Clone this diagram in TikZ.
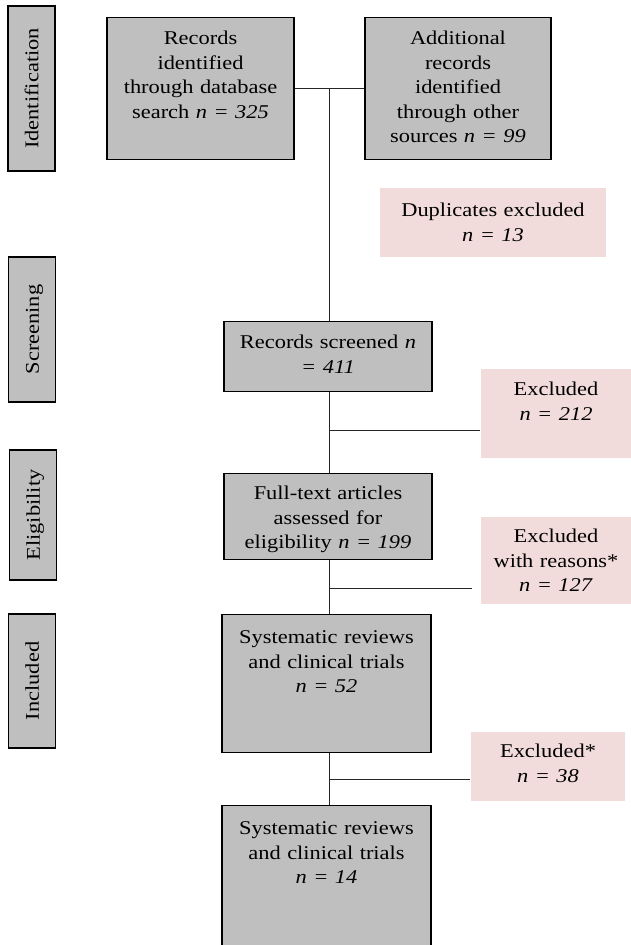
\documentclass[tikz,border=0pt]{standalone}
\usepackage{fontspec}
\setmainfont{Liberation Serif}[FakeStretch=1.15]
\usepackage{tikz}
\usetikzlibrary{calc,positioning}
\definecolor{boxgray}{RGB}{191,191,191}
\definecolor{boxpink}{RGB}{242,220,219}
\newcommand{\mainwidth}{202pt}
\newcommand{\exwidth}{144pt}
\newcommand{\sidewidth}{47pt}
\tikzset{
  font=\fontsize{19.5pt}{24.5pt}\selectfont,
  graybox/.style={draw,line width=1.1pt,fill=boxgray,shape=rectangle,anchor=north,align=center,inner xsep=3pt,inner ysep=0pt,text height=27pt},
  pinkbox/.style={graybox,draw=none,fill=boxpink},
  sidebox/.style={draw,line width=1.1pt,fill=boxgray,shape=rectangle,rotate=90,minimum height=\sidewidth,text height=13.5pt,text depth=0pt,inner sep=0pt},
  line/.style={draw,line width=1pt,black!85}
}
\begin{document}
\begin{tikzpicture}[x=1pt,y=-1pt]
  \useasboundingbox (0,0) rectangle (631,945);

  \node (ident) [sidebox,minimum width=165pt] at (31.5,88.5) {Identification};
  \node (screen) [sidebox,minimum width=145pt] at (32,329.5) {Screening};
  \node (elig) [sidebox,minimum width=130pt] at (33,515) {Eligibility};
  \node (incl) [sidebox,minimum width=134pt] at (32,681) {Included};

  \node (rec) [graybox,text width=181pt,text depth=115pt] at (200.5,17) {Records\\ identified\\ through database\\ search \textit{n = 325}};
  \node (add) [graybox,text width=180pt,text depth=115pt] at (458,17) {Additional\\ records\\ identified\\ through other\\ sources \textit{n = 99}};
  \node (dup) [pinkbox,text width=220pt,text height=29pt,text depth=40pt] at (493,187) {Duplicates excluded\\ \textit{n = 13}};
  \node (scr) [graybox,text width=\mainwidth,text depth=43pt] at (328,321) {Records screened \textit{n}\\ \textit{= 411}};
  \node (ex1) [pinkbox,text width=\exwidth,text depth=62pt] at (556,368) {Excluded\\ \textit{n = 212}};
  \node (full) [graybox,text width=\mainwidth,text height=26pt,text depth=60pt] at (328,473) {Full-text articles\\ assessed for\\ eligibility \textit{n = 199}};
  \node (ex2) [pinkbox,text width=\exwidth,text height=26pt,text depth=61pt] at (556,516) {Excluded\\ with reasons*\\ \textit{n = 127}};
  \node (sr1) [graybox,text width=203pt,text height=29pt,text depth=109pt] at (326.5,614) {Systematic reviews\\ and clinical trials\\ \textit{n = 52}};
  \node (ex3) [pinkbox,text width=148pt,text height=26pt,text depth=43pt] at (548,731) {Excluded*\\ \textit{n = 38}};
  \node (sr2) [graybox,text width=203pt,text height=29pt,text depth=116pt] at (326.5,805) {Systematic reviews\\ and clinical trials\\ \textit{n = 14}};

  \coordinate (j1) at ($(rec.east)!0.5!(add.west)$);
  \coordinate (b1) at (j1 |- 0,430);
  \coordinate (b2) at (j1 |- 0,588);
  \coordinate (e2) at (472,588);
  \coordinate (b3) at (j1 |- 0,779);

  \path [line] (rec) -- (add);
  \path [line] (j1) -- (j1 |- scr.north);
  \path [line] (j1 |- scr.south) -- (j1 |- full.north);
  \path [line] (j1 |- full.south) -- (j1 |- sr1.north);
  \path [line] (j1 |- sr1.south) -- (j1 |- sr2.north);
  \path [line] (b1) -- (b1 -| ex1.west);
  \path [line] (b2) -- (e2);
  \path [line] (b3) -- (b3 -| ex3.west);
\end{tikzpicture}
\end{document}
